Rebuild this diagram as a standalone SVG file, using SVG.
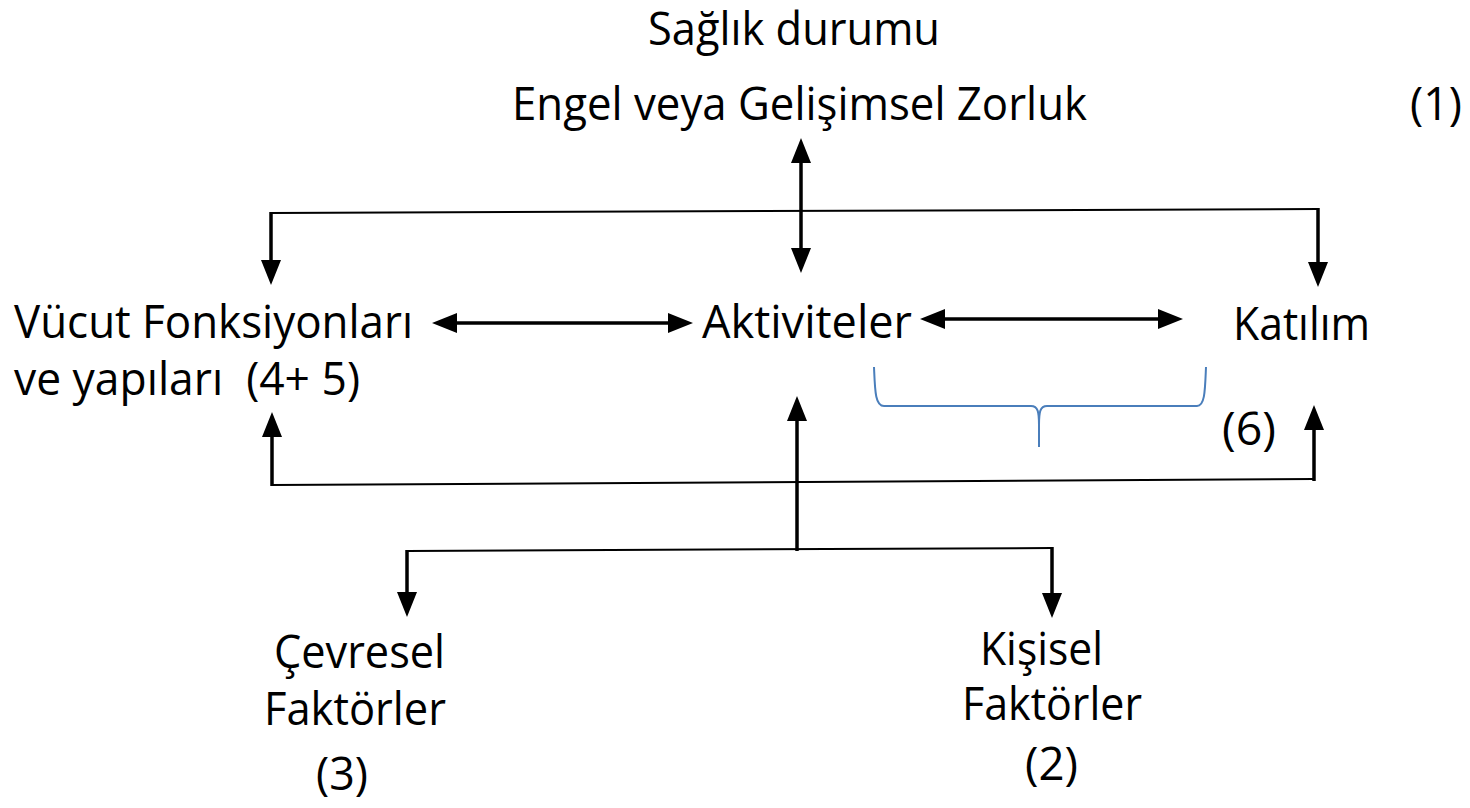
<svg xmlns="http://www.w3.org/2000/svg" width="1470" height="808" viewBox="0 0 1470 808">
<style>
  text { font-family: "Open Sans", "Noto Sans", "DejaVu Sans", sans-serif; font-size: 45px; fill: #000; }
  .thin { stroke: #000; stroke-width: 2; fill: none; }
  .arr { stroke: #000; stroke-width: 3.5; fill: none; marker-end: url(#ah); }
  .dbl { stroke: #000; stroke-width: 3.5; fill: none; marker-start: url(#ah); marker-end: url(#ah); }
  .brace { stroke: #4A7EBB; stroke-width: 2; fill: none; }
</style>
<defs>
  <marker id="ah" viewBox="0 0 25 20" refX="14" refY="10" markerWidth="25" markerHeight="20" markerUnits="userSpaceOnUse" orient="auto-start-reverse">
    <path d="M0,0 L25,10 L0,20 z" fill="#000"/>
  </marker>
</defs>
<rect width="1470" height="808" fill="#fff"/>

<g id="saglik">
  <text x="648" y="45" font-size="40" textLength="292" lengthAdjust="spacingAndGlyphs">Sağlık durumu</text>
  <text x="512" y="120" textLength="575" lengthAdjust="spacingAndGlyphs">Engel veya Gelişimsel Zorluk</text>
</g>
<g id="label1"><text x="1410" y="120" textLength="52" lengthAdjust="spacingAndGlyphs">(1)</text></g>
<g id="vucut">
  <text x="14" y="338" textLength="399" lengthAdjust="spacingAndGlyphs">Vücut Fonksiyonları</text>
  <text x="14" y="395" textLength="346" lengthAdjust="spacingAndGlyphs" xml:space="preserve">ve yapıları  (4+ 5)</text>
</g>
<g id="aktiviteler"><text x="702" y="338" textLength="210" lengthAdjust="spacingAndGlyphs">Aktiviteler</text></g>
<g id="katilim"><text x="1233" y="340" textLength="137" lengthAdjust="spacingAndGlyphs">Katılım</text></g>
<g id="label6"><text x="1222" y="445" textLength="54" lengthAdjust="spacingAndGlyphs">(6)</text></g>
<g id="cevresel">
  <text x="274" y="668" textLength="171" lengthAdjust="spacingAndGlyphs">Çevresel</text>
  <text x="264" y="725" textLength="182" lengthAdjust="spacingAndGlyphs">Faktörler</text>
  <text x="316" y="790" textLength="52" lengthAdjust="spacingAndGlyphs">(3)</text>
</g>
<g id="kisisel">
  <text x="980" y="665" textLength="123" lengthAdjust="spacingAndGlyphs">Kişisel</text>
  <text x="962" y="720" textLength="180" lengthAdjust="spacingAndGlyphs">Faktörler</text>
  <text x="1025" y="780" textLength="53" lengthAdjust="spacingAndGlyphs">(2)</text>
</g>

<g id="connectors">
  <line class="dbl" x1="801" y1="149" x2="801" y2="262"/>
  <line class="thin" x1="271" y1="213" x2="1318" y2="209"/>
  <line class="arr" x1="271" y1="212" x2="271" y2="274"/>
  <line class="arr" x1="1318" y1="208" x2="1318" y2="276"/>
  <line class="dbl" x1="443" y1="323" x2="682" y2="323"/>
  <line class="dbl" x1="931" y1="319" x2="1172" y2="319"/>
  <line class="arr" x1="797" y1="551" x2="797" y2="407"/>
  <line class="thin" x1="272" y1="485" x2="1314" y2="479"/>
  <line class="arr" x1="272" y1="486" x2="272" y2="423"/>
  <line class="arr" x1="1314" y1="481" x2="1314" y2="416"/>
  <line class="thin" x1="407" y1="551" x2="1052" y2="548"/>
  <line class="arr" x1="407" y1="550" x2="407" y2="606"/>
  <line class="arr" x1="1052" y1="547" x2="1052" y2="607"/>
  <path class="brace" d="M874,367 C875,390 875,406 884,406 L1031,406 C1038,406 1039,412 1039,425 L1039,447 M1039,425 C1039,412 1040,406 1047,406 L1197,406 C1205,406 1205,390 1206,367"/>
</g>
</svg>
